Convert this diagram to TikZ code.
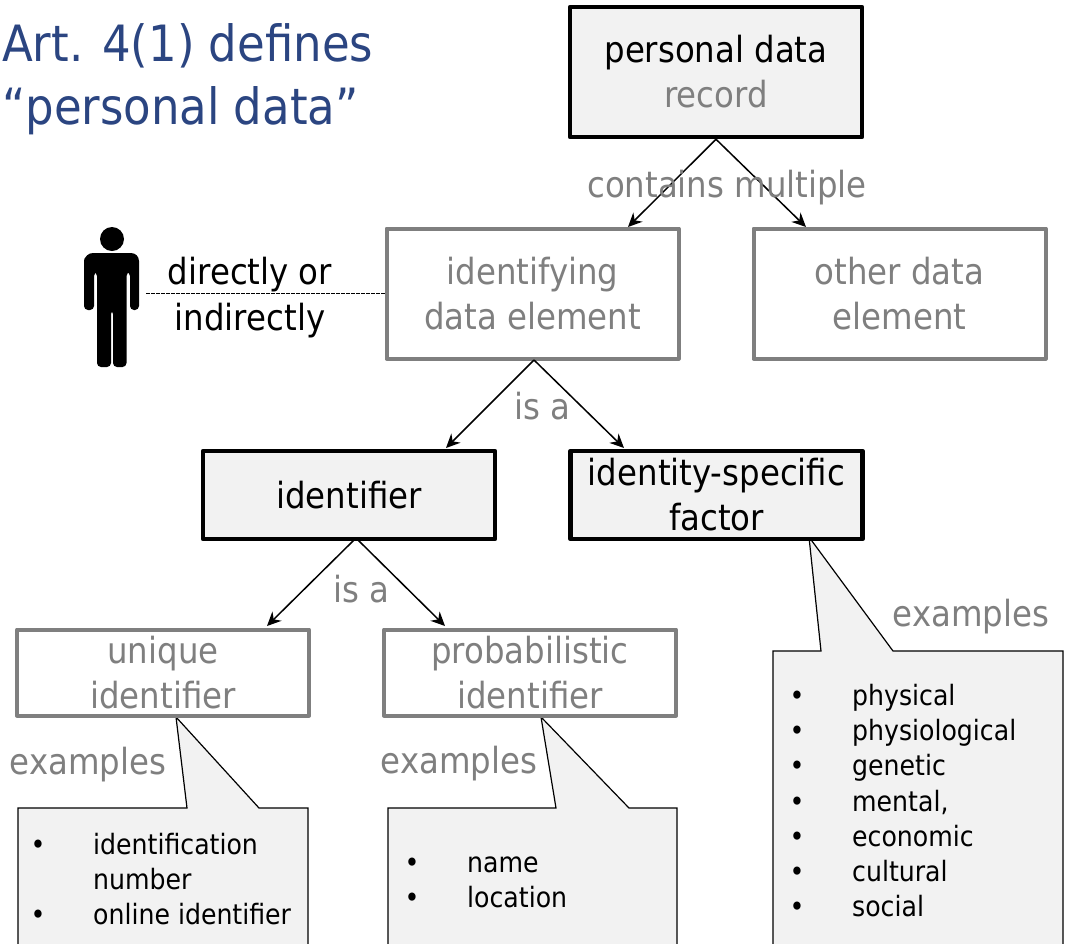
\documentclass[tikz,border=0pt]{standalone}
\usepackage{fontspec}
\setmainfont{DejaVu Sans Condensed}
\usetikzlibrary{arrows.meta}
\definecolor{tgray}{HTML}{7F7F7F}
\definecolor{bfill}{HTML}{F2F2F2}
\definecolor{tblue}{HTML}{2B4581}
\newcommand{\bigf}{\fontsize{36}{45}\selectfont}
\newcommand{\listf}{\fontsize{28}{35}\selectfont}
\newcommand{\titlef}{\fontsize{50}{63}\selectfont}
\tikzset{
  x=1pt,y=-1pt,
  darkbox/.style={draw=black,line width=4.5pt,fill=bfill,line join=round,minimum width=292pt,align=center,inner sep=0pt,text=black,font=\bigf},
  greybox/.style={draw=tgray,line width=4pt,fill=white,line join=round,minimum width=292pt,align=center,inner sep=0pt,text=tgray,font=\bigf},
  lbl/.style={text=tgray,font=\bigf,inner sep=0pt,anchor=base},
  blk/.style={text=black,font=\bigf,inner sep=0pt,anchor=base},
  conn/.style={-{Stealth[length=14pt,width=13pt]},line width=1.5pt,black},
  callout/.style={draw=black,line width=1.2pt,fill=bfill,line join=miter},
  item/.style={text=black,font=\listf,inner sep=0pt,anchor=base west},
  bul/.style={text=black,font=\listf,inner sep=0pt,anchor=base},
}
\begin{document}
\begin{tikzpicture}
\useasboundingbox (0,0) rectangle (1066,943);
% callouts
\draw[callout] (18,950) -- (18,808) -- (187,808) -- (176,717) -- (259,808) -- (308,808) -- (308,950);
\draw[callout] (388,950) -- (388,808) -- (556,808) -- (541,717) -- (629,808) -- (677,808) -- (677,950);
\draw[callout] (773,950) -- (773,651) -- (821,651) -- (809,537) -- (893,651) -- (1063,651) -- (1063,950);
% boxes
\node[darkbox,minimum height=130pt] (pd) at (716,72) {personal data\\\textcolor{tgray}{record}};
\node[greybox,minimum height=130pt] (ide) at (532.5,293.5) {identifying\\data element};
\node[greybox,minimum height=130pt] (oth) at (899.5,293.5) {other data\\element};
\node[darkbox,minimum height=88pt] (idf) at (349,495) {identifier};
\node[darkbox,minimum height=88pt] (isf) at (716.5,495) {identity-specific\\factor};
\node[greybox,minimum height=86pt] (uni) at (163,672.5) {unique\\identifier};
\node[greybox,minimum height=86pt] (pro) at (530,672.5) {probabilistic\\identifier};
% connector ends
\coordinate (a) at (628,227);
\coordinate (b) at (806,227);
\coordinate (c) at (446,448);
\coordinate (d) at (624,448);
\coordinate (e) at (267,626);
\coordinate (f) at (445,626);
\coordinate (g) at (534,360);
\coordinate (h) at (354,540);
\coordinate (i) at (358,540);
\coordinate (per) at (146,293.5);
\draw[conn] (pd.south) -- (a);
\draw[conn] (pd.south) -- (b);
\draw[conn] (g) -- (c);
\draw[conn] (g) -- (d);
\draw[conn] (h) -- (e);
\draw[conn] (i) -- (f);
\draw[black,line width=1.1pt,dash pattern=on 3.5pt off 1.5pt] (per) -- (ide.west);
% person
\fill[black] (112,239) circle (12);
\fill[black,rounded corners=4pt] (84,310) -- (84,262) [rounded corners=8pt] -- (85,253) -- (139,253) [rounded corners=4pt] -- (139,310) -- (130,310) -- (130,272) -- (126.5,272) -- (126.5,367) -- (113,367) -- (113,310) -- (111,310) -- (111,367) -- (97,367) -- (97,272) -- (94,272) -- (94,310) -- cycle;
% labels
\node[anchor=base west,text=tblue,font=\titlef,inner sep=0pt] (t1) at (2,61) {Art. 4(1) defines};
\node[anchor=base west,text=tblue,font=\titlef,inner sep=0pt] (t2) at (2,124) {“personal data”};
\node[lbl] (l1) at (727,197) {contains multiple};
\node[blk] (l2) at (250,284) {directly or};
\node[blk] (l3) at (250,330) {indirectly};
\node[lbl] (l4) at (542,419) {is a};
\node[lbl] (l5) at (361,602) {is a};
\node[lbl] (l6) at (971,626) {examples};
\node[lbl] (l7) at (88,774) {examples};
\node[lbl] (l8) at (459,773) {examples};
% lists
\node[bul] (b1) at (38,854) {•};
\node[item] (i1) at (93,854) {identification};
\node[item] (i2) at (93,889) {number};
\node[bul] (b2) at (38,924) {•};
\node[item] (i3) at (93,924) {online identifier};
\node[bul] (b3) at (412,872) {•};
\node[item] (i4) at (467,872) {name};
\node[bul] (b4) at (412,907) {•};
\node[item] (i5) at (467,907) {location};
\node[bul] (c1) at (797,705) {•};
\node[item] (j1) at (852,705) {physical};
\node[bul] (c2) at (797,740) {•};
\node[item] (j2) at (852,740) {physiological};
\node[bul] (c3) at (797,775) {•};
\node[item] (j3) at (852,775) {genetic};
\node[bul] (c4) at (797,811) {•};
\node[item] (j4) at (852,811) {mental,};
\node[bul] (c5) at (797,846) {•};
\node[item] (j5) at (852,846) {economic};
\node[bul] (c6) at (797,881) {•};
\node[item] (j6) at (852,881) {cultural};
\node[bul] (c7) at (797,916) {•};
\node[item] (j7) at (852,916) {social};
\end{tikzpicture}
\end{document}
